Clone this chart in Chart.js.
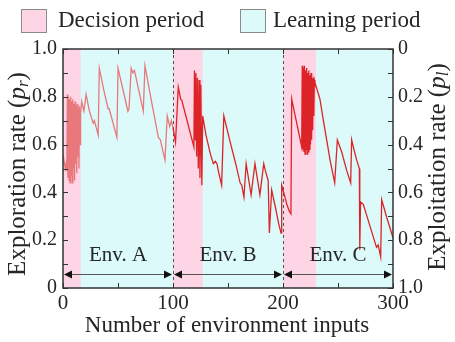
<!DOCTYPE html>
<html>
<head>
<meta charset="utf-8">
<script src="https://cdn.jsdelivr.net/npm/chart.js@4.4.0/dist/chart.umd.min.js"></script>
<style>
  html, body { margin: 0; padding: 0; background: #fff; }
  #wrap { width: 455px; height: 342px; }
</style>
</head>
<body>
<div id="wrap"><canvas id="c" width="455" height="342"></canvas></div>
<script>
// values (x = environment inputs, y = exploration rate p_r)
const inputs = [
  0, 1, 2, 2.8, 3.5, 4, 4.5, 5, 5.5, 6, 6.5, 7, 7.5, 8, 8.5, 9, 9.5, 10, 10.5, 11, 11.5, 12, 12.5, 13, 13.5, 14, 14.5, 15, 15.5, 16,
  17, 19, 21, 24, 27.5, 28.5, 32, 33, 37, 41, 42, 49, 50, 55, 59, 60, 62, 63.5, 65, 73, 74.5, 80.5, 86.7, 88.5, 92.7, 94.8, 97, 98.5,
  100, 102.3, 104.8, 107, 108, 119, 119.5, 120.2, 120.8, 121.5, 122.2, 123, 123.7, 124.5, 125.3, 126.2, 127,
  130, 134, 136.7, 138.5, 140, 141.2, 144.2, 146.2, 152, 157, 161, 162.5, 164.5, 166.5, 171, 174.5, 179, 182.5, 184, 186.5,
  187.6, 189.7, 193, 196, 198.2, 198.8,
  200, 201.8, 203.5, 205.8, 207.2, 207.9, 212, 217, 217.5, 218, 218.5, 219, 219.5, 220, 220.5, 221, 221.5, 222, 222.5, 223,
  223.5, 224, 224.5, 225, 225.5, 226, 226.5, 227, 227.5, 228, 228.5, 229,
  231, 233.6, 236, 239.7, 243, 247, 249.4, 253.3, 258, 261.5, 262.4, 265, 267, 269.4, 269.8, 270.5, 273, 279, 285, 286.5,
  288.8, 289.7, 294, 300
];
const explorationRate = [
  0.56, 0.53, 0.50, 0.52, 0.49, 0.81, 0.46, 0.80, 0.45, 0.79, 0.44, 0.80, 0.47, 0.78, 0.44, 0.79, 0.50, 0.77, 0.45, 0.78, 0.52, 0.76, 0.48, 0.77, 0.55, 0.75, 0.50, 0.76, 0.60, 0.73,
  0.78, 0.74, 0.81, 0.74, 0.69, 0.70, 0.64, 0.92, 0.83, 0.75, 0.75, 0.63, 0.92, 0.82, 0.74, 0.75, 0.92, 0.90, 0.91, 0.74, 0.93, 0.78, 0.63, 0.62, 0.535, 0.72, 0.675, 0.70,
  0.67, 0.61, 0.84, 0.79, 0.785, 0.59, 0.91, 0.62, 0.90, 0.55, 0.88, 0.50, 0.87, 0.46, 0.85, 0.43, 0.72,
  0.64, 0.56, 0.52, 0.53, 0.52, 0.49, 0.43, 0.72, 0.61, 0.52, 0.44, 0.43, 0.38, 0.52, 0.39, 0.52, 0.39, 0.52, 0.49, 0.45,
  0.23, 0.41, 0.34, 0.27, 0.23, 0.43,
  0.41, 0.38, 0.35, 0.32, 0.31, 0.79, 0.70, 0.59, 0.93, 0.58, 0.92, 0.57, 0.93, 0.56, 0.91, 0.58, 0.92, 0.56, 0.90, 0.57,
  0.91, 0.58, 0.89, 0.60, 0.90, 0.62, 0.88, 0.66, 0.88, 0.72, 0.87, 0.86,
  0.83, 0.79, 0.72, 0.62, 0.53, 0.44, 0.62, 0.57, 0.49, 0.44, 0.62, 0.57, 0.535, 0.50, 0.16, 0.36, 0.35, 0.26, 0.17, 0.18,
  0.13, 0.37, 0.30, 0.21
];

// shaded periods
const decisionStart = [0, 100, 200];
const decisionEnd = [16, 127, 230];

// environments (double arrows + labels)
const envNames = ['Env. A', 'Env. B', 'Env. C'];
const envStart = [0, 100, 200];
const envEnd = [100, 200, 300];

const legendLabels = ['Decision period', 'Learning period'];

const FONT = "'Liberation Serif', 'Times New Roman', serif";
const INK = '#262626';
const DECIDE_COLOR = '#fdd5e4';
const LEARN_COLOR = '#ddfafa';

function fmt(v) {
  return v === 0 ? '0' : v.toFixed(1);
}

// rotated title with italic p and a subscript
function drawRateTitle(ctx, cx, cy, main, sub) {
  const big = '25px ' + FONT;
  const ital = 'italic 25px ' + FONT;
  const small = 'italic 17px ' + FONT;
  const parts = [
    [main + ' (', big, 0],
    ['p', ital, 0],
    [sub, small, 6],
    [')', big, 0],
  ];
  ctx.save();
  ctx.translate(cx, cy);
  ctx.rotate(-Math.PI / 2);
  let total = 0;
  parts.forEach(p => { ctx.font = p[1]; total += ctx.measureText(p[0]).width; });
  let px = -total / 2;
  ctx.textBaseline = 'middle';
  ctx.textAlign = 'left';
  ctx.fillStyle = INK;
  parts.forEach(p => {
    ctx.font = p[1];
    ctx.fillText(p[0], px, p[2]);
    px += ctx.measureText(p[0]).width;
  });
  ctx.restore();
}

const decor = {
  id: 'decor',
  beforeDraw(chart) {
    const { ctx, chartArea: a, scales: { x } } = chart;
    ctx.save();
    ctx.fillStyle = LEARN_COLOR;
    ctx.fillRect(a.left, a.top, a.width, a.height);
    ctx.fillStyle = DECIDE_COLOR;
    decisionStart.forEach((s, i) => {
      const x0 = x.getPixelForValue(s);
      const x1 = x.getPixelForValue(decisionEnd[i]);
      ctx.fillRect(x0, a.top, x1 - x0, a.height);
    });
    ctx.restore();
  },
  beforeDatasetsDraw(chart) {
    const { ctx, chartArea: a, scales: { x } } = chart;
    ctx.save();
    ctx.strokeStyle = '#555';
    ctx.lineWidth = 1;
    ctx.setLineDash([3, 3]);
    envStart.slice(1).forEach(s => {
      const px = Math.round(x.getPixelForValue(s)) + 0.5;
      ctx.beginPath();
      ctx.moveTo(px, a.top);
      ctx.lineTo(px, a.bottom);
      ctx.stroke();
    });
    ctx.restore();
  },
  afterDatasetsDraw(chart) {
    const { ctx, scales: { x, y } } = chart;
    const ay = Math.round(y.getPixelForValue(0.06)) + 0.5;
    const ty = y.getPixelForValue(0.135);
    ctx.save();
    envStart.forEach((s, i) => {
      const x0 = x.getPixelForValue(s) + 1;
      const x1 = x.getPixelForValue(envEnd[i]) - 1;
      ctx.strokeStyle = '#555';
      ctx.lineWidth = 1;
      ctx.beginPath();
      ctx.moveTo(x0 + 6, ay);
      ctx.lineTo(x1 - 6, ay);
      ctx.stroke();
      ctx.fillStyle = '#111';
      ctx.beginPath();
      ctx.moveTo(x0, ay); ctx.lineTo(x0 + 8, ay - 4); ctx.lineTo(x0 + 8, ay + 4); ctx.closePath();
      ctx.fill();
      ctx.beginPath();
      ctx.moveTo(x1, ay); ctx.lineTo(x1 - 8, ay - 4); ctx.lineTo(x1 - 8, ay + 4); ctx.closePath();
      ctx.fill();
      ctx.fillStyle = INK;
      ctx.font = '21px ' + FONT;
      ctx.textAlign = 'center';
      ctx.textBaseline = 'middle';
      ctx.fillText(envNames[i], (x0 + x1) / 2, ty);
    });
    ctx.restore();
  },
  afterDraw(chart) {
    const { ctx, chartArea: a, scales: { x, y } } = chart;
    ctx.save();
    // inward ticks
    ctx.strokeStyle = '#333';
    ctx.lineWidth = 1;
    ctx.beginPath();
    for (let v = 0; v <= 300; v += 50) {
      const px = Math.round(x.getPixelForValue(v)) + 0.5;
      ctx.moveTo(px, a.bottom); ctx.lineTo(px, a.bottom - 5);
      ctx.moveTo(px, a.top); ctx.lineTo(px, a.top + 5);
    }
    for (let k = 0; k <= 10; k++) {
      const py = Math.round(y.getPixelForValue(k / 10)) + 0.5;
      ctx.moveTo(a.left, py); ctx.lineTo(a.left + 5, py);
      ctx.moveTo(a.right, py); ctx.lineTo(a.right - 5, py);
    }
    ctx.stroke();
    // frame
    ctx.lineWidth = 1.5;
    ctx.strokeRect(a.left, a.top, a.width, a.height);

    // legend
    const boxes = [[21, DECIDE_COLOR, 58], [240, LEARN_COLOR, 273]];
    ctx.font = '23px ' + FONT;
    ctx.textBaseline = 'middle';
    ctx.textAlign = 'left';
    boxes.forEach((b, i) => {
      ctx.fillStyle = b[1];
      ctx.fillRect(b[0], 9, 25, 23);
      ctx.strokeStyle = '#8a8a8a';
      ctx.lineWidth = 1;
      ctx.strokeRect(b[0] + 0.5, 9.5, 25, 23);
      ctx.fillStyle = INK;
      ctx.fillText(legendLabels[i], b[2], 21);
    });

    // axis titles
    drawRateTitle(ctx, 18, 174, 'Exploration rate', 'r');
    drawRateTitle(ctx, 438, 167, 'Exploitation rate', 'l');
    ctx.font = '23px ' + FONT;
    ctx.fillStyle = INK;
    ctx.textAlign = 'center';
    ctx.textBaseline = 'middle';
    ctx.fillText('Number of environment inputs', (a.left + a.right) / 2 - 1, 326);
    ctx.restore();
  }
};

const tickFont = { family: FONT, size: 20 };

new Chart(document.getElementById('c'), {
  type: 'line',
  data: {
    datasets: [{
      data: inputs.map((v, i) => ({ x: v, y: explorationRate[i] })),
      borderColor: '#dc2428',
      borderWidth: 1.3,
      pointRadius: 0,
      tension: 0,
      segment: {
        borderColor: c => (c.p0.parsed.x < 100 ? '#e8787c' : undefined),
      },
    }],
  },
  options: {
    responsive: false,
    animation: false,
    layout: { padding: { top: 49, left: 0, right: 0, bottom: 0 } },
    plugins: { legend: { display: false }, tooltip: { enabled: false } },
    scales: {
      x: {
        type: 'linear', min: 0, max: 300,
        grid: { display: false, drawTicks: false },
        border: { display: false },
        ticks: { stepSize: 100, font: { family: FONT, size: 21 }, color: INK, padding: 3, maxRotation: 0 },
        afterFit(s) { s.height = 54; },
      },
      y: {
        position: 'left', min: 0, max: 1,
        grid: { display: false, drawTicks: false },
        border: { display: false },
        ticks: { stepSize: 0.2, font: tickFont, color: INK, padding: 6, callback: fmt },
        afterFit(s) { s.width = 63; },
      },
      y2: {
        position: 'right', min: 0, max: 1, reverse: true,
        grid: { display: false, drawTicks: false },
        border: { display: false },
        ticks: { stepSize: 0.2, font: tickFont, color: INK, padding: 5, callback: fmt },
        afterFit(s) { s.width = 62; },
      },
    },
  },
  plugins: [decor],
});
</script>
</body>
</html>
